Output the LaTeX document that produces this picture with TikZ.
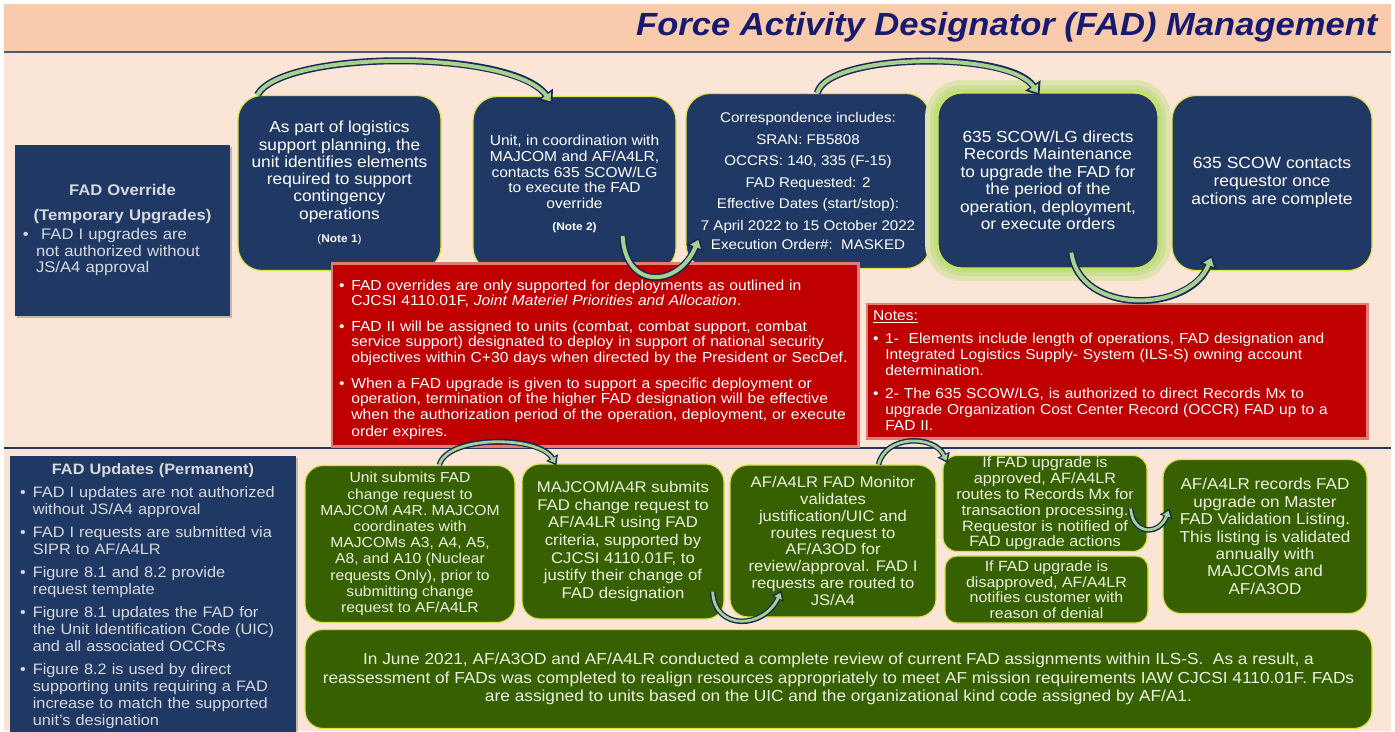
\documentclass[tikz,border=0pt]{standalone}
\usepackage{fontspec}
\setmainfont{Liberation Sans}[FakeStretch=1.08]
\usetikzlibrary{arrows.meta,shadows}

\definecolor{pagepeach}{RGB}{251,229,214}
\definecolor{bandpeach}{RGB}{248,203,173}
\definecolor{rulegray}{RGB}{80,90,110}
\definecolor{titlenavy}{RGB}{24,26,112}
\definecolor{boxnavy}{RGB}{32,56,100}
\definecolor{edgeyellow}{RGB}{222,226,70}
\definecolor{boxgreen}{RGB}{55,96,0}
\definecolor{boxred}{RGB}{192,0,0}
\definecolor{arrowgreen}{RGB}{169,209,142}
\definecolor{arrownavy}{RGB}{22,40,90}
\definecolor{glowgreen}{RGB}{190,222,130}
\definecolor{sidegray}{RGB}{214,217,222}
\definecolor{greentext}{RGB}{236,242,226}

\newcommand{\fs}[2]{\fontsize{#1}{#2}\selectfont}
\newcommand{\fadbullet}{\par\hangindent=0.85em\hangafter=1\noindent\makebox[0.85em][l]{\textbullet}}
\newcommand{\flowarrow}[3]{\draw[#1] #3; \draw[#2] #3;}

\tikzset{
  flowbox/.style={rounded corners=24pt, fill=boxnavy, draw=edgeyellow, line width=1.2pt,
    text=white, align=center, inner sep=0pt},
  greenbox/.style={flowbox, fill=boxgreen, rounded corners=18pt, text=greentext},
  sidebox/.style={fill=boxnavy, text=sidegray, align=left, inner xsep=8pt, inner ysep=4pt,
    drop shadow={opacity=0.45, shadow xshift=2pt, shadow yshift=-2pt}},
  redbox/.style={fill=boxred, text=white, align=left, inner xsep=6pt, inner ysep=0pt,
    preaction={draw=boxred!45!pagepeach, line width=5pt}},
  bigrim/.style={draw=arrownavy, line width=7pt, -{Triangle[length=12pt,width=18pt]}},
  bigcore/.style={draw=arrowgreen, line width=4pt, shorten >=3pt, -{Triangle[length=7.5pt,width=11pt]}},
  smallrim/.style={draw=arrownavy, line width=5.5pt, -{Triangle[length=9pt,width=13pt]}},
  smallcore/.style={draw=arrowgreen, line width=2.8pt, shorten >=2.5pt, -{Triangle[length=5.5pt,width=8pt]}},
}

\begin{document}
\begin{tikzpicture}[x=1pt,y=-1pt]
\useasboundingbox (0,0) rectangle (1395,731);
\fill[white] (0,0) rectangle (1395,731);
\fill[pagepeach] (4,4) rectangle (1391,731);
\fill[bandpeach] (4,4) rectangle (1391,52);
\draw[rulegray, line width=1.5pt] (4,52) -- (1391,52);
\draw[boxnavy, line width=2pt] (4,448) -- (1391,448);

\node[font=\fs{32}{38}\bfseries\itshape, text=titlenavy, anchor=east] (title) at (1381,27)
  {Force Activity Designator (FAD) Management};

% override row
\node[sidebox, text width=199pt, minimum height=171pt, font=\fs{15.4}{16.5}] (ovr) at (122.5,230.5)
  {{\centering\bfseries FAD Override\\[8pt](Temporary Upgrades)\par}
   \vspace{3pt}
   \fadbullet\ FAD I upgrades are\newline not authorized without\newline JS/A4 approval\par};

\node[flowbox, minimum width=203pt, minimum height=175pt, font=\fs{16}{17.3}] (b1) at (339.5,183)
  {As part of logistics\\support planning, the\\unit identifies elements\\required to support\\contingency\\operations\\[6pt]
   {\fs{11}{13}(\textbf{Note 1})}};
\node[flowbox, minimum width=203pt, minimum height=175pt, font=\fs{14.4}{15.8}] (b2) at (574.5,184)
  {Unit, in coordination with\\MAJCOM and AF/A4LR,\\contacts 635 SCOW/LG\\to execute the FAD\\override\\[6pt]
   {\fs{11}{13}\textbf{(Note 2)}}};
\node[flowbox, minimum width=244pt, minimum height=175pt, font=\fs{14}{15}] (b3) at (808,181)
  {Correspondence includes:\\[6.5pt]SRAN: FB5808\\[6.5pt]OCCRS: 140, 335 (F-15)\\[6.5pt]FAD Requested: 2\\[6.5pt]
   Effective Dates (start/stop):\\[6.5pt]7 April 2022 to 15 October 2022\\[4.5pt]Execution Order\#:\ \ MASKED};
\node[flowbox, minimum width=220pt, minimum height=175pt, font=\fs{16}{17.5},
  preaction={draw=glowgreen!45!pagepeach, line width=26pt},
  preaction={draw=glowgreen!75!pagepeach, line width=16pt},
  preaction={draw=glowgreen, line width=8pt}] (b4) at (1048,180.5)
  {635 SCOW/LG directs\\Records Maintenance\\to upgrade the FAD for\\the period of the\\operation, deployment,\\or execute orders};
\node[flowbox, minimum width=200pt, minimum height=175pt, font=\fs{16.2}{18}] (b5) at (1272,183)
  {635 SCOW contacts\\requestor once\\actions are complete};

\node[redbox, text width=512pt, minimum height=164pt, font=\fs{14.5}{16}\setlength{\parskip}{9pt}] (rules) at (595,355)
  {\fadbullet FAD overrides are only supported for deployments as outlined in\newline
   CJCSI 4110.01F, \textit{Joint Materiel Priorities and Allocation}.
   \fadbullet FAD II will be assigned to units (combat, combat support, combat\newline
   service support) designated to deploy in support of national security\newline
   objectives within C+30 days when directed by the President or SecDef.
   \fadbullet When a FAD upgrade is given to support a specific deployment or\newline
   operation, termination of the higher FAD designation will be effective\newline
   when the authorization period of the operation, deployment, or execute\newline
   order expires.\par\vspace{6pt}};
\node[redbox, text width=488pt, minimum height=132pt, inner xsep=5pt, font=\fs{14.4}{16}\setlength{\parskip}{7pt}] (notes) at (1117,371)
  {\underline{Notes:}
   \fadbullet 1-\ \ Elements include length of operations, FAD designation and\newline
   Integrated Logistics Supply- System (ILS-S) owning account\newline
   determination.
   \fadbullet 2- The 635 SCOW/LG, is authorized to direct Records Mx to\newline
   upgrade Organization Cost Center Record (OCCR) FAD up to a\newline
   FAD II.\par};

% update row
\node[sidebox, text width=266pt, minimum height=280pt, inner xsep=10pt, font=\fs{15.1}{17}\setlength{\parskip}{6pt}] (upd) at (153,596)
  {{\centering\bfseries FAD Updates (Permanent)\par}
   \fadbullet FAD I updates are not authorized\newline without JS/A4 approval
   \fadbullet FAD I requests are submitted via\newline SIPR to AF/A4LR
   \fadbullet Figure 8.1 and 8.2 provide\newline request template
   \fadbullet Figure 8.1 updates the FAD for\newline the Unit Identification Code (UIC)\newline and all associated OCCRs
   \fadbullet Figure 8.2 is used by direct\newline supporting units requiring a FAD\newline increase to match the supported\newline unit's designation\par};

\node[greenbox, minimum width=210pt, minimum height=157pt, font=\fs{14.5}{16.2}] (ga) at (410,544)
  {Unit submits FAD\\change request to\\MAJCOM A4R. MAJCOM\\coordinates with\\MAJCOMs A3, A4, A5,\\A8, and A10 (Nuclear\\requests Only), prior to\\submitting change\\request to AF/A4LR};
\node[greenbox, minimum width=202pt, minimum height=155pt, font=\fs{15.5}{17.6}] (gb) at (623,541.5)
  {MAJCOM/A4R submits\\FAD change request to\\AF/A4LR using FAD\\criteria, supported by\\CJCSI 4110.01F, to\\justify their change of\\FAD designation};
\node[greenbox, minimum width=206pt, minimum height=152pt, font=\fs{15.4}{16.9}] (gc) at (833,541)
  {AF/A4LR FAD Monitor\\validates\\justification/UIC and\\routes request to\\AF/A3OD for\\review/approval. FAD I\\requests are routed to\\JS/A4};
\node[greenbox, minimum width=204pt, minimum height=96pt, rounded corners=14pt, font=\fs{15}{15.8}] (gd) at (1045,503.5)
  {If FAD upgrade is\\approved, AF/A4LR\\routes to Records Mx for\\transaction processing.\\Requestor is notified of\\FAD upgrade actions};
\node[greenbox, minimum width=203pt, minimum height=67pt, rounded corners=12pt, font=\fs{14.8}{15.5}] (ge) at (1046.5,589.5)
  {If FAD upgrade is\\disapproved, AF/A4LR\\notifies customer with\\reason of denial};
\node[greenbox, minimum width=204pt, minimum height=154pt, font=\fs{15.8}{17.4}] (gf) at (1265,536.5)
  {AF/A4LR records FAD\\upgrade on Master\\FAD Validation Listing.\\This listing is validated\\annually with\\MAJCOMs and\\AF/A3OD};
\node[greenbox, minimum width=1067pt, minimum height=99pt, font=\fs{16}{18.5}] (review) at (838.5,679)
  {In June 2021, AF/A3OD and AF/A4LR conducted a complete review of current FAD assignments within ILS-S.\ \ As a result, a\\
   reassessment of FADs was completed to realign resources appropriately to meet AF mission requirements IAW CJCSI 4110.01F. FADs\\
   are assigned to units based on the UIC and the organizational kind code assigned by AF/A1.};

% arrows
\flowarrow{bigrim}{bigcore}{([xshift=20pt]b1.north west) .. controls +(25,-45) and +(-40,-55) .. ([xshift=80pt,yshift=-8pt]b2.north west)}
\flowarrow{bigrim}{bigcore}{([xshift=-54pt,yshift=36pt]b2.south east) .. controls +(3,55) and +(-20,50) .. ([xshift=14pt,yshift=32pt]b3.south west)}
\flowarrow{bigrim}{bigcore}{([xshift=132pt]b3.north west) .. controls +(10,-40) and +(-30,-45) .. ([xshift=102pt,yshift=-3pt]b4.north west)}
\flowarrow{bigrim}{bigcore}{([xshift=134pt,yshift=16pt]b4.south west) .. controls +(8,63) and +(-23,58) .. ([xshift=41pt,yshift=16pt]b5.south west)}
\flowarrow{smallrim}{smallcore}{([xshift=135pt]ga.north west) .. controls +(8,-30) and +(-17,-30) .. ([xshift=35pt,yshift=-2pt]gb.north west)}
\flowarrow{smallrim}{smallcore}{([xshift=-12pt,yshift=28pt]gb.south east) .. controls +(2,40) and +(-17,38) .. ([xshift=52pt,yshift=27pt]gc.south west)}
\flowarrow{smallrim}{smallcore}{([xshift=-58pt]gc.north east) .. controls +(7,-30) and +(-13,-28) .. ([xshift=5pt,yshift=-8pt]gd.north west)}
\flowarrow{smallrim}{smallcore}{([xshift=-17pt,yshift=-5pt]gd.east) .. controls +(2,27) and +(-10,27) .. ([xshift=7pt,yshift=28pt]gf.west)}
\end{tikzpicture}
\end{document}
